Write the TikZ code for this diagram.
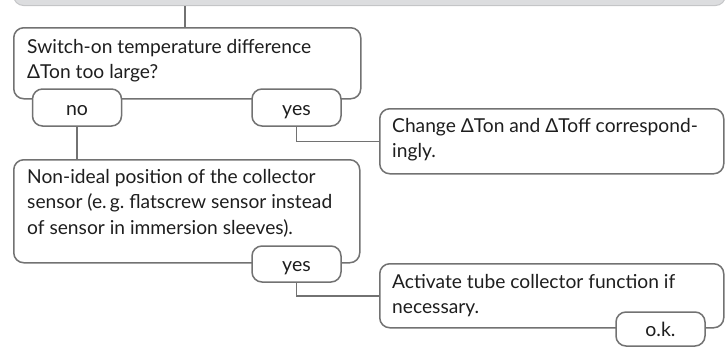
\documentclass[tikz,border=0pt]{standalone}
\usepackage{fontspec}
\setmainfont{Lato}
\frenchspacing
\definecolor{linec}{HTML}{727272}
\definecolor{barfill}{HTML}{DCDDDF}
\definecolor{barline}{HTML}{C4C5C7}
\definecolor{txtc}{HTML}{1E1E1E}
\begin{document}
\begin{tikzpicture}[x=1pt,y=-1pt,
  box/.style={draw=linec, line width=1.5pt, rounded corners=10pt, fill=white, inner sep=0pt, anchor=north west},
  lbl/.style={draw=linec, line width=1.5pt, rounded corners=10pt, fill=white, inner sep=0pt, minimum width=89pt, text=txtc, text height=15pt, text depth=0pt, font=\fontsize{19.5}{24}\selectfont},
  txt/.style={anchor=north west, inner sep=0pt, align=left, text=txtc, font=\fontsize{19.2}{25.5}\selectfont},
  conn/.style={draw=linec, line width=1.5pt}]
\useasboundingbox (0,0) rectangle (726,346);
\clip (0,0) rectangle (726,346);
% top bar
\node[draw=barline, line width=1pt, fill=barfill, rounded corners=10pt, anchor=south west, minimum width=712pt, minimum height=30pt, inner sep=0pt] (bar) at (13,6) {};
% boxes
\node[box, minimum width=347pt, minimum height=71pt] (b1) at (13,27) {};
\node[box, minimum width=346pt, minimum height=103pt] (b2) at (13,159) {};
\node[box, minimum width=344pt, minimum height=65pt] (b3) at (379,108) {};
\node[box, minimum width=344pt, minimum height=64pt] (b4) at (379,263) {};
% texts
\node[txt] (t1) at ([xshift=14pt,yshift=-12pt]b1.north west) {Switch-on temperature difference\\ΔTon too large?};
\node[txt] (t2) at ([xshift=14pt,yshift=-10pt]b2.north west) {Non-ideal position of the collector\\sensor (e.\,g. flatscrew sensor instead\\of sensor in immersion sleeves).};
\node[txt] (t3) at ([xshift=13pt,yshift=-10pt]b3.north west) {Change ΔTon and ΔToff correspond-\\ingly.};
\node[txt] (t4) at ([xshift=13pt,yshift=-11pt]b4.north west) {Activate tube collector function if\\necessary.};
% connectors
\draw[conn] ([xshift=172pt]b1.north west) -- ([xshift=172pt]b1.north west |- bar.south);
% labels
\node[lbl, minimum height=37pt] (no) at (77,107.5) {no};
\node[lbl, minimum height=37pt] (yes1) at (296.5,107.5) {yes};
\node[lbl, minimum height=36pt] (yes2) at (296.5,264) {yes};
\node[lbl, minimum height=34pt] (ok) at (660.5,329) {o.k.};
\draw[conn] (no.south) -- (no.south |- b2.north);
\draw[conn] (yes1.south) |- (b3.west);
\draw[conn] (yes2.south) |- (b4.west);
\end{tikzpicture}
\end{document}
